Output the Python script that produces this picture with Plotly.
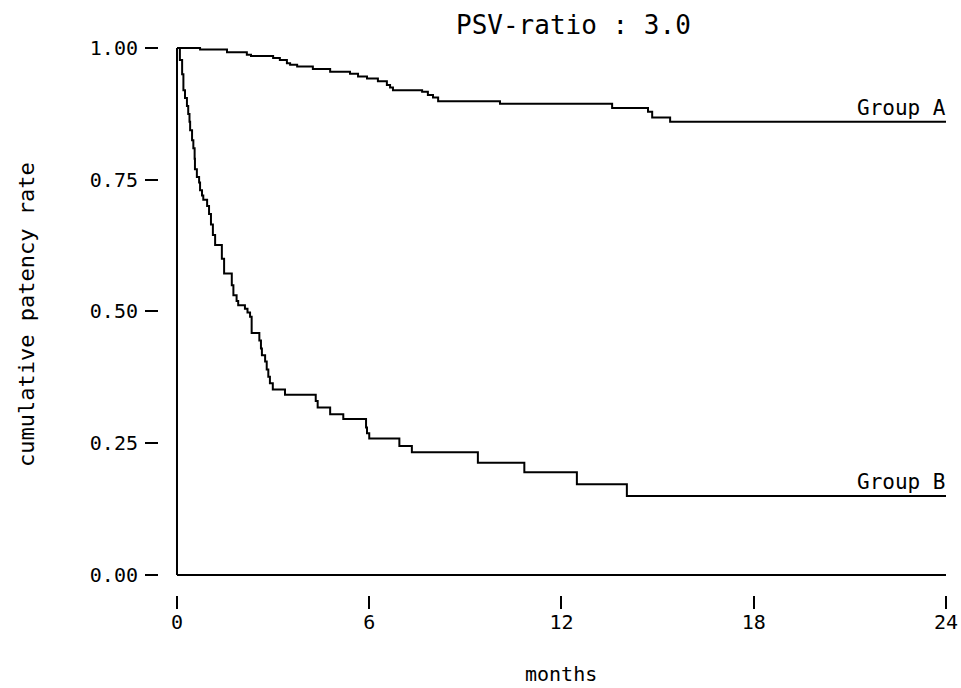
import plotly.graph_objects as go

# Kaplan-Meier style cumulative patency estimates (months, rate) for each group
group_a_months = [0, 0.72, 1.56, 2.18, 2.31, 3.00, 3.21, 3.43, 3.53, 3.75, 4.24, 4.78,
                  5.40, 5.65, 5.93, 6.27, 6.55, 6.65, 6.74, 7.65, 7.83, 7.99, 8.15,
                  10.08, 13.58, 14.70, 14.83, 15.39, 24]
group_a_rate = [1.000, 0.997, 0.992, 0.987, 0.985, 0.981, 0.977, 0.971, 0.968, 0.965, 0.960, 0.955,
                0.951, 0.946, 0.942, 0.937, 0.930, 0.925, 0.920, 0.917, 0.911, 0.906, 0.899,
                0.894, 0.886, 0.879, 0.868, 0.860, 0.860]

group_b_months = [0, 0.09, 0.16, 0.20, 0.25, 0.31, 0.35, 0.39, 0.41, 0.47, 0.51, 0.55, 0.56,
                  0.62, 0.69, 0.72, 0.78, 0.82, 0.94, 1.00, 1.06, 1.12, 1.19, 1.40, 1.47,
                  1.71, 1.76, 1.86, 1.91, 2.12, 2.20, 2.28, 2.33, 2.57, 2.62, 2.65, 2.75,
                  2.80, 2.85, 2.90, 2.99, 3.37, 4.33, 4.39, 4.78, 5.19, 5.90, 5.93, 6.00,
                  6.94, 7.33, 9.39, 10.84, 12.48, 14.04, 24]
group_b_rate = [1.000, 0.977, 0.950, 0.920, 0.905, 0.890, 0.875, 0.860, 0.844, 0.825, 0.810, 0.790, 0.770,
                0.755, 0.745, 0.730, 0.720, 0.712, 0.700, 0.685, 0.665, 0.645, 0.626, 0.600, 0.572,
                0.550, 0.531, 0.520, 0.512, 0.505, 0.498, 0.490, 0.459, 0.445, 0.430, 0.417, 0.405,
                0.390, 0.376, 0.364, 0.352, 0.342, 0.330, 0.318, 0.305, 0.296, 0.280, 0.269, 0.259,
                0.245, 0.233, 0.213, 0.195, 0.172, 0.150, 0.150]

x_ticks = [0, 6, 12, 18, 24]
y_ticks = [0.0, 0.25, 0.5, 0.75, 1.0]
y_tick_labels = ["0.00", "0.25", "0.50", "0.75", "1.00"]

title_text = "PSV-ratio : 3.0"
x_title = "months"
y_title = "cumulative patency rate"
series_labels = ["Group A", "Group B"]

# ---- page geometry (pixels) ----
W, H = 961, 688
FONT = "DejaVu Sans Mono"
x0_px, x24_px = 177.0, 946.0      # pixel positions of month 0 and month 24
y0_px, y1_px = 575.0, 48.0        # pixel positions of rate 0 and rate 1
xpad, ypad = 0.1, 0.006           # small range padding so edge lines are not clipped

px_per_x = (x24_px - x0_px) / 24.0
px_per_y = (y0_px - y1_px) / 1.0
xdom = [(x0_px - xpad * px_per_x) / W, (x24_px + xpad * px_per_x) / W]
ydom = [1 - (y0_px + ypad * px_per_y) / H, 1 - (y1_px - ypad * px_per_y) / H]

fig = go.Figure()
line_style = dict(color="black", width=2, shape="hv")
fig.add_trace(go.Scatter(x=group_a_months, y=group_a_rate, mode="lines",
                         line=line_style, showlegend=False, hoverinfo="skip"))
fig.add_trace(go.Scatter(x=group_b_months, y=group_b_rate, mode="lines",
                         line=line_style, showlegend=False, hoverinfo="skip"))

# frame lines along rate 0 and month 0
fig.add_shape(type="line", xref="x", yref="y", x0=0, x1=24, y0=0, y1=0,
              line=dict(color="black", width=2))
fig.add_shape(type="line", xref="x", yref="y", x0=0, x1=0, y0=0, y1=1,
              line=dict(color="black", width=2))

fig.update_layout(
    width=W, height=H,
    margin=dict(l=0, r=0, t=0, b=0),
    paper_bgcolor="white", plot_bgcolor="white",
    font=dict(family=FONT, color="black", size=20),
    xaxis=dict(
        domain=xdom, range=[-xpad, 24 + xpad],
        anchor="free", position=1 - 595 / H,
        showgrid=False, zeroline=False, showline=False,
        tickmode="array", tickvals=x_ticks, ticktext=[str(v) for v in x_ticks],
        ticks="outside", ticklen=13, tickwidth=1.5, tickcolor="black",
        ticklabelstandoff=-4,
        tickfont=dict(family=FONT, size=20), automargin=False,
    ),
    yaxis=dict(
        domain=ydom, range=[-ypad, 1 + ypad],
        anchor="free", position=158 / W,
        showgrid=False, zeroline=False, showline=False,
        tickmode="array", tickvals=y_ticks, ticktext=y_tick_labels,
        ticks="outside", ticklen=13, tickwidth=1.5, tickcolor="black",
        ticklabelstandoff=3,
        tickfont=dict(family=FONT, size=20), automargin=False,
    ),
)

annotations = [
    dict(text=title_text, xref="paper", yref="paper", x=573 / W, y=1 - 25 / H,
         xanchor="center", yanchor="middle", showarrow=False,
         font=dict(family=FONT, size=26)),
    dict(text=x_title, xref="paper", yref="paper", x=561 / W, y=0,
         xanchor="center", yanchor="bottom", showarrow=False,
         font=dict(family=FONT, size=20)),
    dict(text=y_title, xref="paper", yref="paper", x=26 / W, y=1 - 315 / H,
         xanchor="center", yanchor="middle", textangle=-90, showarrow=False,
         font=dict(family=FONT, size=22)),
    dict(text=series_labels[0], xref="x", yref="y", x=24, y=group_a_rate[-1],
         xanchor="right", yanchor="bottom", xshift=2, yshift=0, showarrow=False,
         font=dict(family=FONT, size=21)),
    dict(text=series_labels[1], xref="x", yref="y", x=24, y=group_b_rate[-1],
         xanchor="right", yanchor="bottom", xshift=2, yshift=0, showarrow=False,
         font=dict(family=FONT, size=21)),
]
fig.update_layout(annotations=annotations)

fig.write_html("out.html")
